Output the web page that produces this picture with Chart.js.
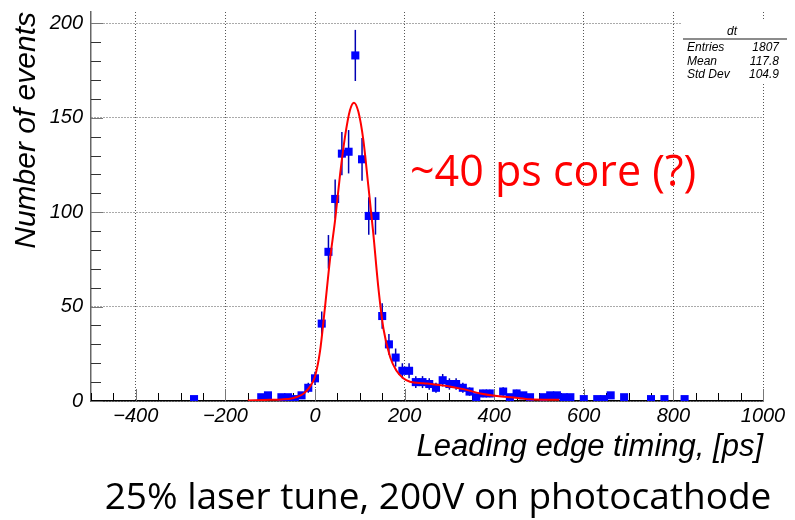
<!DOCTYPE html>
<html>
<head>
<meta charset="utf-8">
<script src="https://cdn.jsdelivr.net/npm/chart.js@4.4.1/dist/chart.umd.min.js"></script>
<style>
  html, body { margin: 0; padding: 0; background: #fff; }
</style>
</head>
<body>
<canvas id="dtChart" width="795" height="520"></canvas>
<script>
// histogram "dt": bin centres [ps] and counts
const binCenters = [-270, -120, -105, -75, -60, -45, -30, -15,
  0, 15, 30, 45, 60, 75, 90, 105, 120, 135, 150, 165, 180, 195, 210, 225, 240, 255, 270, 285,
  300, 315, 330, 345, 360, 375, 390, 420, 435, 450, 465, 480,
  510, 525, 540, 555, 570, 600, 630, 645, 660, 690, 750, 780, 825];
const binCounts = [1, 2, 3, 2, 2, 1, 3, 7,
  12, 41, 79, 107, 131, 132, 183, 128, 98, 98, 45, 30, 23, 16, 16, 10, 10, 9, 7, 11,
  9, 9, 7, 5, 2, 4, 4, 5, 2, 4, 3, 2,
  2, 3, 3, 2, 2, 1, 1, 1, 3, 2, 1, 1, 1];

// fit curve (red line)
const fitX = [-150, -100, -75, -50, -25, -10, 0, 11, 22, 33, 45, 56, 67, 78, 87, 97, 108, 119,
  130, 141, 153, 168, 182, 197, 212, 242, 260, 294, 331, 369, 406, 443, 480, 545];
const fitY = [0.3, 0.6, 0.8, 1.5, 4, 8, 13, 26, 49, 74, 96, 120, 140, 154, 158, 153, 138, 114,
  89, 61, 38, 23, 16, 12, 10.2, 9.4, 9, 8, 6.3, 4, 2.6, 1.8, 0.9, 0.6];

const xTickValues = [-400, -200, 0, 200, 400, 600, 800, 1000];
const yTickValues = [0, 50, 100, 150, 200];

const statsTitle = "dt";
const statsLabels = ["Entries", "Mean", "Std Dev"];
const statsValues = ["1807", "117.8", "104.9"];
const noteText = "~40 ps core (?)";
const captionText = "25% laser tune, 200V on photocathode";

const rootFont = '"Liberation Sans", Arial, sans-serif';

// inner tick marks, error bars, stats box and the slide texts
const rootExtras = {
  id: 'rootExtras',
  beforeDatasetsDraw(chart) {
    const ctx = chart.ctx;
    const xs = chart.scales.x, ys = chart.scales.y;
    const area = chart.chartArea;
    ctx.save();
    ctx.lineWidth = 1;
    for (let v = xs.min; v <= xs.max; v += 50) {
      const px = Math.round(xs.getPixelForValue(v)) + 0.5;
      const major = v % 200 === 0;
      ctx.strokeStyle = major ? '#777' : '#000';
      ctx.beginPath();
      ctx.moveTo(px, area.bottom);
      ctx.lineTo(px, area.bottom - (major ? 12 : 8));
      ctx.stroke();
    }
    for (let v = 0; v <= ys.max; v += 10) {
      const py = Math.round(ys.getPixelForValue(v)) + 0.5;
      const major = v % 50 === 0;
      ctx.strokeStyle = major ? '#777' : '#333';
      ctx.beginPath();
      ctx.moveTo(area.left, py);
      ctx.lineTo(area.left + (major ? 12 : 10), py);
      ctx.stroke();
    }
    // poisson error bars
    ctx.strokeStyle = '#0000b4';
    ctx.lineWidth = 1.5;
    binCenters.forEach((x, i) => {
      const n = binCounts[i];
      const e = Math.sqrt(n);
      const px = xs.getPixelForValue(x);
      ctx.beginPath();
      ctx.moveTo(px, ys.getPixelForValue(Math.max(n - e, 0)));
      ctx.lineTo(px, ys.getPixelForValue(n + e));
      ctx.stroke();
    });
    ctx.restore();
  },
  afterDraw(chart) {
    const ctx = chart.ctx;
    ctx.save();
    // stats box
    ctx.fillStyle = '#fff';
    ctx.fillRect(682, 20, 110, 62);
    ctx.fillStyle = '#000';
    ctx.font = 'italic 12px ' + rootFont;
    ctx.textBaseline = 'middle';
    ctx.textAlign = 'center';
    ctx.fillText(statsTitle, 732, 32);
    ctx.strokeStyle = '#666';
    ctx.lineWidth = 1.5;
    ctx.beginPath();
    ctx.moveTo(683, 39);
    ctx.lineTo(787, 39);
    ctx.stroke();
    statsLabels.forEach((lab, i) => {
      const y = 48 + i * 13.5;
      ctx.textAlign = 'left';
      ctx.fillText(lab, 687, y);
      ctx.textAlign = 'right';
      ctx.fillText(statsValues[i], 779, y);
    });
    // red note
    ctx.fillStyle = '#ff0000';
    ctx.font = '43px "Open Sans", sans-serif';
    ctx.textAlign = 'left';
    ctx.textBaseline = 'alphabetic';
    ctx.fillText(noteText, 410, 186);
    // caption under the plot
    ctx.fillStyle = '#000';
    ctx.font = '37px "Open Sans", sans-serif';
    ctx.textAlign = 'center';
    ctx.fillText(captionText, 438, 509);
    ctx.restore();
  }
};

const ctx = document.getElementById('dtChart').getContext('2d');
new Chart(ctx, {
  type: 'scatter',
  data: {
    datasets: [
      {
        label: 'fit',
        data: fitX.map((x, i) => ({ x: x, y: fitY[i] })),
        showLine: true,
        borderColor: '#ff0000',
        borderWidth: 2,
        pointRadius: 0,
        cubicInterpolationMode: 'monotone',
        order: 0,
      },
      {
        label: 'dt',
        data: binCenters.map((x, i) => ({ x: x, y: binCounts[i] })),
        pointStyle: 'rect',
        pointRadius: 5.7,
        pointBorderWidth: 0,
        backgroundColor: '#0000ff',
        borderColor: '#0000ff',
        order: 1,
      },
    ],
  },
  options: {
    responsive: false,
    animation: false,
    layout: { padding: { left: 0, right: 32, top: 12, bottom: 44 } },
    plugins: {
      legend: { display: false },
      tooltip: { enabled: false },
    },
    scales: {
      x: {
        type: 'linear',
        min: -500,
        max: 1000,
        afterBuildTicks: (scale) => { scale.ticks = xTickValues.map(v => ({ value: v })); },
        afterFit: (scale) => {
          scale.height = 75;
          scale.paddingLeft = 0;
          scale.paddingRight = 0;
        },
        ticks: {
          color: '#000',
          padding: 3,
          maxRotation: 0,
          font: { family: rootFont, style: 'italic', size: 20 },
          callback: (v) => String(v).replace('-', '\u2212'),
        },
        grid: { color: '#555', lineWidth: 1, drawTicks: false },
        border: { display: true, color: '#000', width: 1.5, dash: [1, 2] },
        title: {
          display: true,
          text: 'Leading edge timing, [ps]',
          align: 'end',
          color: '#000',
          padding: { top: 0, bottom: 10 },
          font: { family: rootFont, style: 'italic', size: 31 },
        },
      },
      y: {
        type: 'linear',
        min: 0,
        max: 206,
        afterBuildTicks: (scale) => { scale.ticks = yTickValues.map(v => ({ value: v })); },
        afterFit: (scale) => {
          scale.width = 91;
          scale.paddingTop = 0;
          scale.paddingBottom = 0;
        },
        ticks: {
          color: '#000',
          padding: 8,
          font: { family: rootFont, style: 'italic', size: 20 },
        },
        grid: { color: '#555', lineWidth: 1, drawTicks: false },
        border: { display: true, color: '#666', width: 1.5, dash: [1, 2] },
        title: {
          display: true,
          text: 'Number of events',
          align: 'end',
          color: '#000',
          padding: { top: 9, bottom: 0 },
          font: { family: rootFont, style: 'italic', size: 30 },
        },
      },
    },
  },
  plugins: [rootExtras],
});
</script>
</body>
</html>
